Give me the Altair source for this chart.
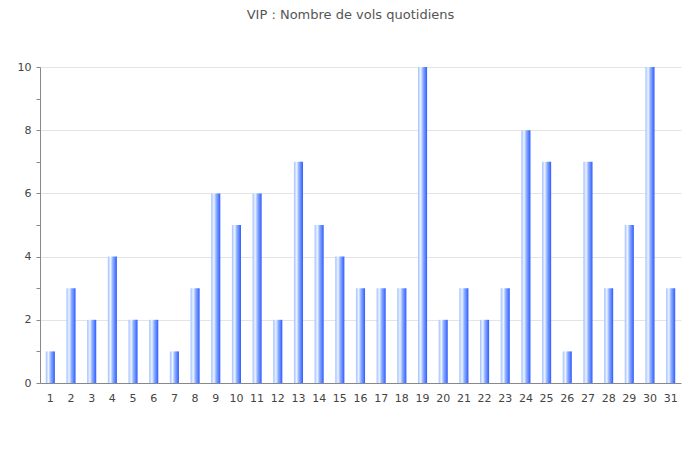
import altair as alt
import pandas as pd

days = [str(d) for d in range(1, 32)]
flights = [1, 3, 2, 4, 2, 2, 1, 3, 6, 5, 6, 2, 7, 5, 4, 3, 3, 3, 10, 2, 3, 2, 3, 8, 7, 1, 7, 3, 5, 10, 3]
title_text = "VIP : Nombre de vols quotidiens"

df = pd.DataFrame({"day": days, "flights": flights})

grad = alt.Gradient(
    gradient="linear", x1=0, x2=1, y1=0, y2=0,
    stops=[
        alt.GradientStop(offset=0, color="#9fc0ff"),
        alt.GradientStop(offset=0.3, color="#eef4ff"),
        alt.GradientStop(offset=0.55, color="#8fb0ff"),
        alt.GradientStop(offset=1, color="#2f5cff"),
    ],
)

chart = alt.Chart(df).mark_bar(color=grad).encode(
    x=alt.X("day:O", sort=days, title=None,
            scale=alt.Scale(paddingInner=0.56, paddingOuter=0.28),
            axis=alt.Axis(labelAngle=0, tickSize=0, labelPadding=9, labelFontSize=11,
                          labelColor="#444444", domainColor="#888888", grid=False,
                          labelFont="DejaVu Sans")),
    y=alt.Y("flights:Q", title=None,
            scale=alt.Scale(domain=[0, 10], nice=False),
            axis=alt.Axis(values=list(range(0, 11)),
                          labelExpr="datum.value % 2 == 0 ? datum.label : ''",
                          tickSize=4, tickColor="#888888", domainColor="#888888",
                          labelPadding=5, labelFontSize=11, labelColor="#444444",
                          labelFont="DejaVu Sans",
                          gridColor="#e4e4e4",
                          gridOpacity={"condition": {"test": "datum.value % 2 == 0 && datum.value > 0", "value": 1}, "value": 0})),
).properties(
    width=641, height=316,
    autosize=alt.AutoSizeParams(type="none"),
    padding={"left": 32, "top": 59, "right": 11, "bottom": 61},
    title=alt.TitleParams(title_text, fontSize=13, font="DejaVu Sans", fontWeight="normal",
                          color="#555555", offset=39, dx=-10, anchor="middle", frame="group"),
).configure_view(stroke=None)

chart.save("out.html", embed_options={"renderer": "svg", "actions": False})
